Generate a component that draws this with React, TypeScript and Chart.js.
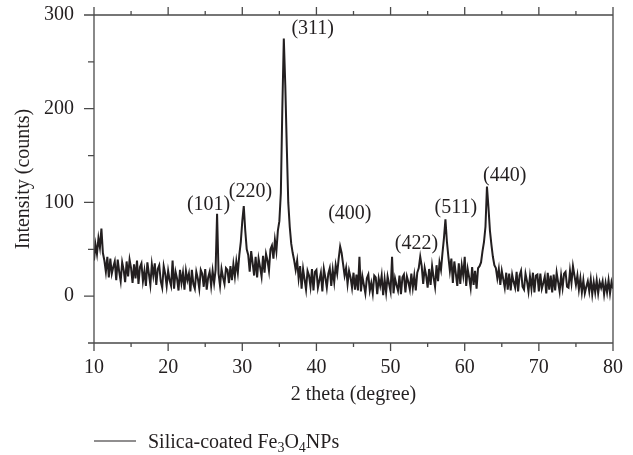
import React, { useEffect, useRef } from 'react';
import { Chart, registerables } from 'chart.js';

Chart.register(...registerables);

// XRD scan: start angle and step (degrees 2θ)
const SCAN_START = 10;
const SCAN_STEP = 0.2;

// Intensity (counts), one row per 2 degrees
const intensity: number[] = [
  38, 55, 45, 62, 52, 72, 46, 38, 26, 42, // 10.0 - 11.8
  20, 40, 24, 31, 37, 17, 39, 26, 16, 36, // 12
  28, 15, 37, 21, 39, 30, 14, 34, 19, 38, // 14
  13, 31, 35, 16, 27, 11, 36, 24, 12, 34, // 16
  22, 35, 12, 29, 33, 16, 9, 32, 24, 11, // 18
  27, 17, 11, 38, 8, 26, 19, 6, 28, 14, // 20
  25, 7, 27, 17, 24, 5, 28, 13, 8, 26, // 22
  19, 8, 28, 24, 10, 29, 7, 20, 26, 11, // 24
  27, 14, 28, 88, 24, 11, 29, 20, 13, 30, // 26
  28, 14, 32, 17, 34, 21, 37, 25, 44, 58, // 28
  80, 96, 70, 50, 44, 26, 48, 35, 22, 42, // 30
  20, 40, 31, 21, 43, 25, 45, 38, 27, 50, // 32
  54, 40, 60, 48, 70, 80, 110, 200, 275, 225, // 34
  160, 100, 74, 56, 46, 38, 28, 38, 19, 32, // 36
  8, 29, 18, 7, 27, 22, 10, 29, 6, 26, // 38
  28, 9, 17, 25, 5, 29, 20, 9, 24, 30, // 40
  11, 28, 15, 33, 24, 40, 53, 46, 34, 22, // 42
  30, 13, 27, 20, 9, 25, 7, 23, 6, 42, // 44
  5, 21, 12, 3, 19, 23, 6, 14, 3, 22, // 46
  20, 2, 19, 11, 22, 1, 18, 4, 21, 13, // 48
  5, 42, 3, 19, 12, 6, 22, 2, 20, 23, // 50
  4, 21, 15, 7, 24, 9, 22, 6, 25, 30, // 52
  42, 32, 13, 30, 22, 9, 29, 12, 32, 20, // 54
  10, 33, 16, 36, 28, 46, 62, 82, 58, 42, // 56
  27, 40, 14, 37, 24, 11, 35, 13, 33, 22, // 58
  42, 11, 29, 20, 9, 31, 12, 27, 8, 30, // 60
  32, 36, 48, 58, 74, 117, 95, 70, 55, 42, // 62
  33, 30, 19, 29, 12, 27, 18, 9, 25, 7, // 64
  24, 6, 23, 15, 9, 26, 5, 22, 27, 10, // 66
  7, 24, 16, 5, 21, 8, 25, 4, 22, 23, // 68
  5, 24, 8, 14, 21, 3, 25, 7, 22, 4, // 70
  23, 6, 25, 15, 5, 22, 9, 24, 26, 10, // 72
  9, 27, 14, 32, 22, 12, 22, 7, 19, 4, // 74
  17, 3, 10, 16, 5, 18, 2, 15, 4, 17, // 76
  3, 15, 9, 16, 2, 14, 4, 17, 3, 15, // 78
  8, // 80
];

// Axis ranges
const X_MIN = 10;
const X_MAX = 80;
const X_STEP = 5;
const Y_MIN = -50;
const Y_MAX = 300;
const Y_STEP = 50;

// Peak annotations (Miller indices) and where their text sits, in data units
const peakLabels = ['(101)', '(220)', '(311)', '(400)', '(422)', '(511)', '(440)'];
const peakLabelAngle = [25.45, 31.1, 39.5, 44.5, 53.5, 58.8, 65.4];
const peakLabelIntensity = [98, 111, 285, 87.5, 55.5, 94.5, 128.6];

const seriesName = 'Silica-coated Fe3O4NPs';
const xTitle = '2 theta (degree)';
const yTitle = 'Intensity (counts)';

const FONT = "'Liberation Serif', 'Times New Roman', serif";
const TEXT = '#231f20';
const AXIS = '#4a4a4a';
const LINE = '#231f20';

const framePlugin = {
  id: 'frameTicks',
  afterDatasetsDraw(chart: any) {
    const { ctx, chartArea: a, scales } = chart;
    const x = scales.x;
    const y = scales.y;
    ctx.save();
    ctx.strokeStyle = AXIS;
    ctx.lineWidth = 1.3;
    ctx.beginPath();
    ctx.rect(a.left, a.top, a.right - a.left, a.bottom - a.top);
    y.ticks.forEach((t: any) => {
      const py = y.getPixelForValue(t.value);
      const len = t.value % 100 === 0 ? 10 : 6;
      ctx.moveTo(a.left - len, py);
      ctx.lineTo(a.left, py);
    });
    x.ticks.forEach((t: any) => {
      const px = x.getPixelForValue(t.value);
      const len = t.value % 10 === 0 ? 8 : 4;
      ctx.moveTo(px, a.bottom);
      ctx.lineTo(px, a.bottom + len);
      ctx.moveTo(px, a.top);
      ctx.lineTo(px, a.top - len);
    });
    ctx.stroke();

    // peak labels
    ctx.fillStyle = TEXT;
    ctx.font = `20px ${FONT}`;
    ctx.textAlign = 'center';
    ctx.textBaseline = 'middle';
    peakLabels.forEach((lab, i) => {
      ctx.fillText(lab, x.getPixelForValue(peakLabelAngle[i]), y.getPixelForValue(peakLabelIntensity[i]));
    });

    // legend
    const ly = 441;
    ctx.strokeStyle = LINE;
    ctx.lineWidth = 1.2;
    ctx.beginPath();
    ctx.moveTo(a.left, ly);
    ctx.lineTo(a.left + 42, ly);
    ctx.stroke();
    ctx.textAlign = 'left';
    ctx.textBaseline = 'alphabetic';
    let tx = a.left + 54;
    const base = 448;
    for (const ch of seriesName) {
      const isSub = ch >= '0' && ch <= '9';
      ctx.font = isSub ? `14px ${FONT}` : `20px ${FONT}`;
      ctx.fillText(ch, tx, isSub ? base + 4 : base);
      tx += ctx.measureText(ch).width;
    }
    ctx.restore();
  },
};

const zeroPadding = (s: any) => {
  s.paddingTop = 0;
  s.paddingBottom = 0;
  s.paddingLeft = 0;
  s.paddingRight = 0;
};

export default function App() {
  const ref = useRef<HTMLCanvasElement | null>(null);
  useEffect(() => {
    if (!ref.current) return;
    const points = intensity.map((v, i) => ({ x: SCAN_START + i * SCAN_STEP, y: v }));
    const chart = new Chart(ref.current, {
      type: 'line',
      data: {
        datasets: [
          {
            label: seriesName,
            data: points,
            borderColor: LINE,
            borderWidth: 2,
            pointRadius: 0,
            tension: 0,
            fill: false,
          },
        ],
      },
      options: {
        animation: false,
        responsive: false,
        devicePixelRatio: 1,
        parsing: false,
        layout: { padding: { top: 15, right: 20, left: 0, bottom: 0 } },
        plugins: { legend: { display: false }, tooltip: { enabled: false } },
        scales: {
          x: {
            type: 'linear',
            min: X_MIN,
            max: X_MAX,
            border: { display: false },
            grid: { display: false, drawTicks: false },
            ticks: {
              stepSize: X_STEP,
              autoSkip: false,
              maxRotation: 0,
              padding: 13,
              color: TEXT,
              font: { family: FONT, size: 20 },
              callback: (v: any) => (Number(v) % 10 === 0 ? String(v) : ''),
            },
            title: {
              display: true,
              text: xTitle,
              color: TEXT,
              font: { family: FONT, size: 20 },
              padding: { top: 0, bottom: 48 },
            },
            afterFit: (s: any) => {
              s.height = 112;
              zeroPadding(s);
            },
          },
          y: {
            type: 'linear',
            min: Y_MIN,
            max: Y_MAX,
            border: { display: false },
            grid: { display: false, drawTicks: false },
            ticks: {
              stepSize: Y_STEP,
              autoSkip: false,
              padding: 20,
              color: TEXT,
              font: { family: FONT, size: 20 },
              callback: (v: any) => (Number(v) % 100 === 0 && Number(v) >= 0 ? String(v) : ''),
            },
            title: {
              display: true,
              text: yTitle,
              color: TEXT,
              font: { family: FONT, size: 20 },
              padding: { top: 12, bottom: 0 },
            },
            afterFit: (s: any) => {
              s.width = 94;
              zeroPadding(s);
            },
          },
        },
      },
      plugins: [framePlugin],
    });
    return () => chart.destroy();
  }, []);
  return (
    <div style={{ position: 'absolute', left: 0, top: 0, width: 633, height: 455, background: '#fff' }}>
      <canvas ref={ref} width={633} height={455} style={{ display: 'block' }} />
    </div>
  );
}
